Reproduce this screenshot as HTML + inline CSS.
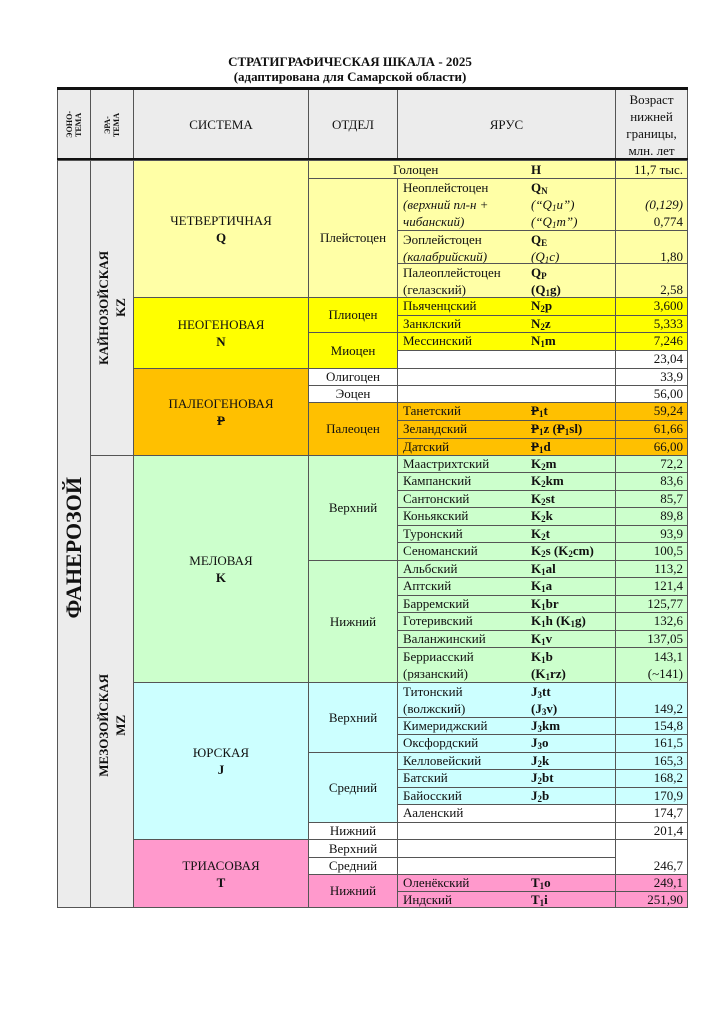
<!DOCTYPE html>
<html><head><meta charset="utf-8"><style>
body{margin:0;width:724px;height:1024px;background:#fff;position:relative;overflow:hidden;font-family:"Liberation Serif",serif;color:#111}
.c{position:absolute;border:1px solid #555;box-sizing:border-box;font-size:13px;line-height:16px}
.f{display:flex;align-items:center;justify-content:center;text-align:center}
.y{background:#FFFFA6}.n{background:#FFFF00}.p{background:#FFC000}.k{background:#CCFFCC}.j{background:#CCFFFF}.t{background:#FF99CC}.g{background:#ececec}.w{background:#fff}
.nm{position:absolute;left:5px;top:0}
.cd{position:absolute;left:133px;top:0;font-weight:bold}
.a{text-align:right;padding-right:4px}
.v{writing-mode:vertical-rl;transform:rotate(180deg);font-weight:bold}
sub{font-size:9px;vertical-align:-2px;line-height:0}
.st{text-decoration:line-through}
</style></head><body>
<div style="position:absolute;left:0;width:700px;top:54px;text-align:center;font-weight:bold;font-size:13px;line-height:15px">СТРАТИГРАФИЧЕСКАЯ ШКАЛА - 2025<br>(адаптирована для Самарской области)</div>

<!-- header -->
<div class="c g f" style="left:57px;top:88px;width:34px;height:73px"><div class="v" style="font-size:8px;line-height:9px">ЭОНО-<br>ТЕМА</div></div>
<div class="c g f" style="left:90px;top:88px;width:44px;height:73px"><div class="v" style="font-size:8px;line-height:9px">ЭРА-<br>ТЕМА</div></div>
<div class="c g f" style="left:133px;top:88px;width:176px;height:73px">СИСТЕМА</div>
<div class="c g f" style="left:308px;top:88px;width:90px;height:73px">ОТДЕЛ</div>
<div class="c g f" style="left:397px;top:88px;width:219px;height:73px">ЯРУС</div>
<div class="c g f" style="left:615px;top:88px;width:73px;height:73px;line-height:17px"><div>Возраст<br>нижней<br>границы,<br>млн. лет</div></div>
<div style="position:absolute;left:57px;top:87px;width:631px;height:3px;background:#111"></div>
<div style="position:absolute;left:57px;top:158px;width:631px;height:3px;background:#111"></div>

<!-- eon / era -->
<div class="c g f" style="left:57px;top:160px;width:34px;height:748px"><div class="v" style="font-size:22px;line-height:24px;margin-top:28px">ФАНЕРОЗОЙ</div></div>
<div class="c g f" style="left:90px;top:160px;width:44px;height:296px"><div class="v" style="line-height:17px">КАЙНОЗОЙСКАЯ<br>KZ</div></div>
<div class="c g f" style="left:90px;top:455px;width:44px;height:453px"><div class="v" style="line-height:17px;margin-top:88px">МЕЗОЗОЙСКАЯ<br>MZ</div></div>

<!-- systems -->
<div class="c y f" style="left:133px;top:160px;width:176px;height:138px;line-height:17px"><div>ЧЕТВЕРТИЧНАЯ<br><b>Q</b></div></div>
<div class="c n f" style="left:133px;top:297px;width:176px;height:72px;line-height:17px"><div>НЕОГЕНОВАЯ<br><b>N</b></div></div>
<div class="c p f" style="left:133px;top:368px;width:176px;height:88px;line-height:17px"><div>ПАЛЕОГЕНОВАЯ<br><b class="st">P</b></div></div>
<div class="c k f" style="left:133px;top:455px;width:176px;height:228px;line-height:17px"><div>МЕЛОВАЯ<br><b>K</b></div></div>
<div class="c j f" style="left:133px;top:682px;width:176px;height:158px;line-height:17px"><div>ЮРСКАЯ<br><b>J</b></div></div>
<div class="c t f" style="left:133px;top:839px;width:176px;height:69px;line-height:17px"><div>ТРИАСОВАЯ<br><b>T</b></div></div>

<!-- series -->
<div class="c y" style="left:308px;top:160px;width:308px;height:19px"><span style="position:absolute;left:84px;top:1px">Голоцен</span><span style="position:absolute;left:222px;top:1px;font-weight:bold">H</span></div>
<div class="c y f" style="left:308px;top:178px;width:90px;height:120px">Плейстоцен</div>
<div class="c n f" style="left:308px;top:297px;width:90px;height:36px">Плиоцен</div>
<div class="c n f" style="left:308px;top:332px;width:90px;height:37px">Миоцен</div>
<div class="c w f" style="left:308px;top:368px;width:90px;height:18px">Олигоцен</div>
<div class="c w f" style="left:308px;top:385px;width:90px;height:18px">Эоцен</div>
<div class="c p f" style="left:308px;top:402px;width:90px;height:54px">Палеоцен</div>
<div class="c k f" style="left:308px;top:455px;width:90px;height:106px">Верхний</div>
<div class="c k f" style="left:308px;top:560px;width:90px;height:123px">Нижний</div>
<div class="c j f" style="left:308px;top:682px;width:90px;height:71px">Верхний</div>
<div class="c j f" style="left:308px;top:752px;width:90px;height:71px">Средний</div>
<div class="c w f" style="left:308px;top:822px;width:90px;height:18px">Нижний</div>
<div class="c w f" style="left:308px;top:839px;width:90px;height:19px">Верхний</div>
<div class="c w f" style="left:308px;top:857px;width:90px;height:18px">Средний</div>
<div class="c t f" style="left:308px;top:874px;width:90px;height:34px">Нижний</div>

<!-- stages -->
<div class="c y" style="left:615px;top:160px;width:73px;height:19px;text-align:right;padding:1px 4px 0 0">11,7 тыс.</div>

<div class="c y" style="left:397px;top:178px;width:219px;height:53px;line-height:17px"><span class="nm">Неоплейстоцен<br><i>(верхний пл-н +<br>чибанский)</i></span><span class="cd">Q<sub>N</sub><br><i style="font-weight:normal">(“Q<sub>1</sub>u”)<br>(“Q<sub>1</sub>m”)</i></span></div>
<div class="c y a" style="left:615px;top:178px;width:73px;height:53px;line-height:17px;padding-top:17px"><i>(0,129)</i><br>0,774</div>
<div class="c y" style="left:397px;top:230px;width:219px;height:34px;line-height:17px"><span class="nm">Эоплейстоцен<br><i>(калабрийский)</i></span><span class="cd">Q<sub>E</sub><br><i style="font-weight:normal">(Q<sub>1</sub>c)</i></span></div>
<div class="c y a" style="left:615px;top:230px;width:73px;height:34px;line-height:17px;padding-top:17px">1,80</div>
<div class="c y" style="left:397px;top:263px;width:219px;height:35px;line-height:17px"><span class="nm">Палеоплейстоцен<br>(гелазский)</span><span class="cd">Q<sub>P</sub><br>(Q<sub>1</sub>g)</span></div>
<div class="c y a" style="left:615px;top:263px;width:73px;height:35px;line-height:17px;padding-top:17px">2,58</div>

<div class="c n" style="left:397px;top:297px;width:219px;height:19px"><span class="nm">Пьяченцский</span><span class="cd">N<sub>2</sub>p</span></div>
<div class="c n a" style="left:615px;top:297px;width:73px;height:19px">3,600</div>
<div class="c n" style="left:397px;top:315px;width:219px;height:18px"><span class="nm">Занклский</span><span class="cd">N<sub>2</sub>z</span></div>
<div class="c n a" style="left:615px;top:315px;width:73px;height:18px">5,333</div>
<div class="c n" style="left:397px;top:332px;width:219px;height:19px"><span class="nm">Мессинский</span><span class="cd">N<sub>1</sub>m</span></div>
<div class="c n a" style="left:615px;top:332px;width:73px;height:19px">7,246</div>
<div class="c w" style="left:397px;top:350px;width:219px;height:19px"></div>
<div class="c w a" style="left:615px;top:350px;width:73px;height:19px">23,04</div>
<div class="c w" style="left:397px;top:368px;width:219px;height:18px"></div>
<div class="c w a" style="left:615px;top:368px;width:73px;height:18px">33,9</div>
<div class="c w" style="left:397px;top:385px;width:219px;height:18px"></div>
<div class="c w a" style="left:615px;top:385px;width:73px;height:18px">56,00</div>

<div class="c p" style="left:397px;top:402px;width:219px;height:19px"><span class="nm">Танетский</span><span class="cd"><span class="st">P</span><sub>1</sub>t</span></div>
<div class="c p a" style="left:615px;top:402px;width:73px;height:19px">59,24</div>
<div class="c p" style="left:397px;top:420px;width:219px;height:19px"><span class="nm">Зеландский</span><span class="cd"><span class="st">P</span><sub>1</sub>z (<span class="st">P</span><sub>1</sub>sl)</span></div>
<div class="c p a" style="left:615px;top:420px;width:73px;height:19px">61,66</div>
<div class="c p" style="left:397px;top:438px;width:219px;height:18px"><span class="nm">Датский</span><span class="cd"><span class="st">P</span><sub>1</sub>d</span></div>
<div class="c p a" style="left:615px;top:438px;width:73px;height:18px">66,00</div>

<div class="c k" style="left:397px;top:455px;width:219px;height:18px"><span class="nm">Маастрихтский</span><span class="cd">K<sub>2</sub>m</span></div>
<div class="c k a" style="left:615px;top:455px;width:73px;height:18px">72,2</div>
<div class="c k" style="left:397px;top:472px;width:219px;height:19px"><span class="nm">Кампанский</span><span class="cd">K<sub>2</sub>km</span></div>
<div class="c k a" style="left:615px;top:472px;width:73px;height:19px">83,6</div>
<div class="c k" style="left:397px;top:490px;width:219px;height:18px"><span class="nm">Сантонский</span><span class="cd">K<sub>2</sub>st</span></div>
<div class="c k a" style="left:615px;top:490px;width:73px;height:18px">85,7</div>
<div class="c k" style="left:397px;top:507px;width:219px;height:19px"><span class="nm">Коньякский</span><span class="cd">K<sub>2</sub>k</span></div>
<div class="c k a" style="left:615px;top:507px;width:73px;height:19px">89,8</div>
<div class="c k" style="left:397px;top:525px;width:219px;height:18px"><span class="nm">Туронский</span><span class="cd">K<sub>2</sub>t</span></div>
<div class="c k a" style="left:615px;top:525px;width:73px;height:18px">93,9</div>
<div class="c k" style="left:397px;top:542px;width:219px;height:19px"><span class="nm">Сеноманский</span><span class="cd">K<sub>2</sub>s (K<sub>2</sub>cm)</span></div>
<div class="c k a" style="left:615px;top:542px;width:73px;height:19px">100,5</div>
<div class="c k" style="left:397px;top:560px;width:219px;height:18px"><span class="nm">Альбский</span><span class="cd">K<sub>1</sub>al</span></div>
<div class="c k a" style="left:615px;top:560px;width:73px;height:18px">113,2</div>
<div class="c k" style="left:397px;top:577px;width:219px;height:19px"><span class="nm">Аптский</span><span class="cd">K<sub>1</sub>a</span></div>
<div class="c k a" style="left:615px;top:577px;width:73px;height:19px">121,4</div>
<div class="c k" style="left:397px;top:595px;width:219px;height:18px"><span class="nm">Барремский</span><span class="cd">K<sub>1</sub>br</span></div>
<div class="c k a" style="left:615px;top:595px;width:73px;height:18px">125,77</div>
<div class="c k" style="left:397px;top:612px;width:219px;height:19px"><span class="nm">Готеривский</span><span class="cd">K<sub>1</sub>h (K<sub>1</sub>g)</span></div>
<div class="c k a" style="left:615px;top:612px;width:73px;height:19px">132,6</div>
<div class="c k" style="left:397px;top:630px;width:219px;height:18px"><span class="nm">Валанжинский</span><span class="cd">K<sub>1</sub>v</span></div>
<div class="c k a" style="left:615px;top:630px;width:73px;height:18px">137,05</div>
<div class="c k" style="left:397px;top:647px;width:219px;height:36px;line-height:17px"><span class="nm">Берриасский<br>(рязанский)</span><span class="cd">K<sub>1</sub>b<br>(K<sub>1</sub>rz)</span></div>
<div class="c k a" style="left:615px;top:647px;width:73px;height:36px;line-height:17px">143,1<br>(~141)</div>

<div class="c j" style="left:397px;top:682px;width:219px;height:36px;line-height:17px"><span class="nm">Титонский<br>(волжский)</span><span class="cd">J<sub>3</sub>tt<br>(J<sub>3</sub>v)</span></div>
<div class="c j a" style="left:615px;top:682px;width:73px;height:36px;line-height:17px;padding-top:17px">149,2</div>
<div class="c j" style="left:397px;top:717px;width:219px;height:18px"><span class="nm">Кимериджский</span><span class="cd">J<sub>3</sub>km</span></div>
<div class="c j a" style="left:615px;top:717px;width:73px;height:18px">154,8</div>
<div class="c j" style="left:397px;top:734px;width:219px;height:19px"><span class="nm">Оксфордский</span><span class="cd">J<sub>3</sub>o</span></div>
<div class="c j a" style="left:615px;top:734px;width:73px;height:19px">161,5</div>
<div class="c j" style="left:397px;top:752px;width:219px;height:18px"><span class="nm">Келловейский</span><span class="cd">J<sub>2</sub>k</span></div>
<div class="c j a" style="left:615px;top:752px;width:73px;height:18px">165,3</div>
<div class="c j" style="left:397px;top:769px;width:219px;height:19px"><span class="nm">Батский</span><span class="cd">J<sub>2</sub>bt</span></div>
<div class="c j a" style="left:615px;top:769px;width:73px;height:19px">168,2</div>
<div class="c j" style="left:397px;top:787px;width:219px;height:18px"><span class="nm">Байосский</span><span class="cd">J<sub>2</sub>b</span></div>
<div class="c j a" style="left:615px;top:787px;width:73px;height:18px">170,9</div>
<div class="c w" style="left:397px;top:804px;width:219px;height:19px"><span class="nm">Ааленский</span></div>
<div class="c w a" style="left:615px;top:804px;width:73px;height:19px">174,7</div>
<div class="c w" style="left:397px;top:822px;width:219px;height:18px"></div>
<div class="c w a" style="left:615px;top:822px;width:73px;height:18px">201,4</div>

<div class="c w" style="left:397px;top:839px;width:219px;height:19px"></div>
<div class="c w" style="left:397px;top:857px;width:219px;height:18px"></div>
<div class="c w a" style="left:615px;top:839px;width:73px;height:36px;padding-top:18px">246,7</div>
<div class="c t" style="left:397px;top:874px;width:219px;height:18px"><span class="nm">Оленёкский</span><span class="cd">T<sub>1</sub>o</span></div>
<div class="c t a" style="left:615px;top:874px;width:73px;height:18px">249,1</div>
<div class="c t" style="left:397px;top:891px;width:219px;height:17px"><span class="nm">Индский</span><span class="cd">T<sub>1</sub>i</span></div>
<div class="c t a" style="left:615px;top:891px;width:73px;height:17px">251,90</div>
</body></html>
